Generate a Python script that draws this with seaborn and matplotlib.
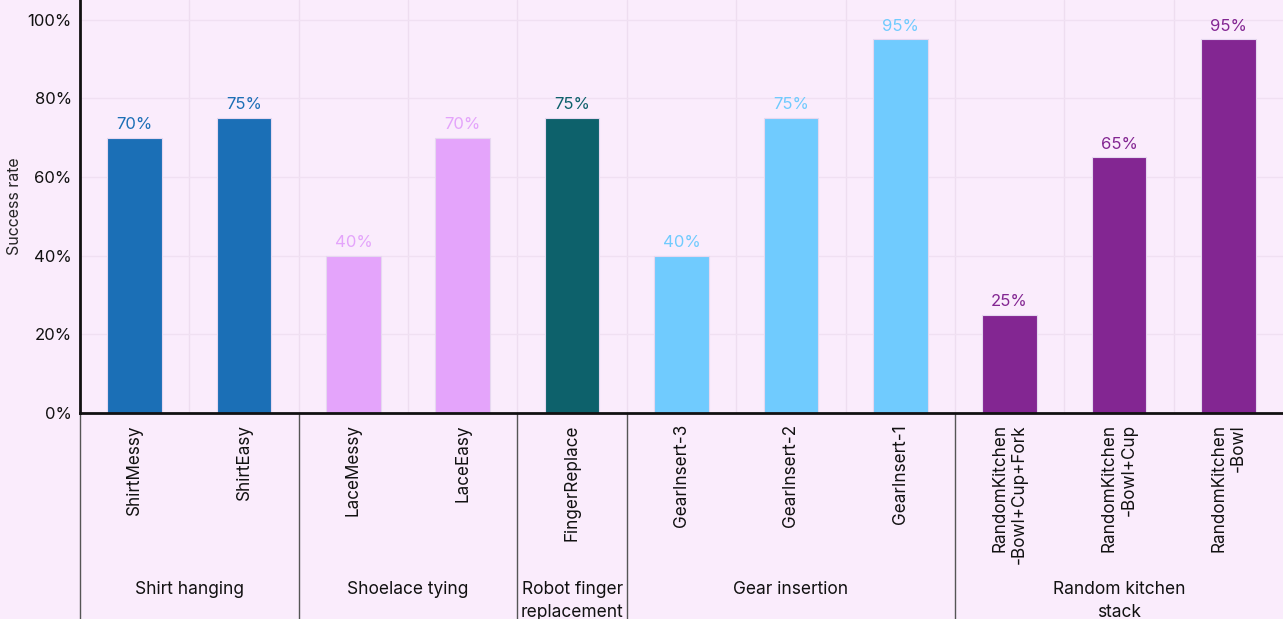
import numpy as np
import pandas as pd
import seaborn as sns
import matplotlib.pyplot as plt

# data
tasks = ['ShirtMessy', 'ShirtEasy', 'LaceMessy', 'LaceEasy', 'FingerReplace',
         'GearInsert-3', 'GearInsert-2', 'GearInsert-1',
         'RandomKitchen\n-Bowl+Cup+Fork', 'RandomKitchen\n-Bowl+Cup', 'RandomKitchen\n-Bowl']
groups = ['Shirt hanging', 'Shirt hanging', 'Shoelace tying', 'Shoelace tying',
          'Robot finger\nreplacement', 'Gear insertion', 'Gear insertion', 'Gear insertion',
          'Random kitchen\nstack', 'Random kitchen\nstack', 'Random kitchen\nstack']
success = [70, 75, 40, 70, 75, 40, 75, 95, 25, 65, 95]

group_colors = {'Shirt hanging': '#1B6FB6', 'Shoelace tying': '#E4A4FB',
                'Robot finger\nreplacement': '#0D616B', 'Gear insertion': '#70CBFE',
                'Random kitchen\nstack': '#832692'}

df = pd.DataFrame({'task': tasks, 'group': groups, 'success': success})

bg = '#FAECFC'
sns.set_theme(style='white')
plt.rcParams['font.family'] = ['Inter', 'DejaVu Sans']

fig = plt.figure(figsize=(12.83, 6.19), dpi=100, facecolor=bg)
ax = fig.add_axes([80 / 1283, 206 / 619, 1 - 80 / 1283, 413 / 619])
ax.set_facecolor(bg)

sns.barplot(data=df, x='task', y='success', hue='group', palette=group_colors,
            dodge=False, width=0.5, saturation=1, edgecolor='#E6D8F0', linewidth=0.8,
            legend=False, ax=ax)

ax.set_ylim(0, 105)
ax.set_xlim(-0.5, len(tasks) - 0.5)
ax.set_yticks(np.arange(0, 101, 20))
ax.set_yticklabels([f'{v}%' for v in range(0, 101, 20)], fontsize=12, color='#111111')
ax.set_xticks(range(len(tasks)))
ax.set_xticklabels(tasks, rotation=90, fontsize=12.3, va='top', ha='center',
                   multialignment='right', color='#111111')
ax.tick_params(axis='both', length=0)
ax.tick_params(axis='x', pad=8)
ax.tick_params(axis='y', pad=6)
ax.set_xlabel('')
ax.set_ylabel('Success rate', fontsize=11.5, labelpad=4)

# grid on slot boundaries and at 20% steps
for xb in np.arange(0.5, len(tasks) - 0.5, 1):
    ax.axvline(xb, color='#EEDDF0', lw=1, zorder=0)
for yv in range(20, 101, 20):
    ax.axhline(yv, color='#F0E0F2', lw=1, zorder=0)

for s in ['top', 'right']:
    ax.spines[s].set_visible(False)
ax.spines['left'].set_color('#111111')
ax.spines['left'].set_linewidth(2)
ax.spines['bottom'].set_color('#111111')
ax.spines['bottom'].set_linewidth(2)

# value labels
for i, (v, g) in enumerate(zip(success, groups)):
    ax.annotate(f'{v}%', (i, v), xytext=(0, 4), textcoords='offset points',
                ha='center', va='bottom', fontsize=12, color=group_colors[g])

# group separators and names below the axis
order = list(dict.fromkeys(groups))
start = 0
bounds = [-0.5]
for g in order:
    n = groups.count(g)
    mid = start + (n - 1) / 2
    ax.annotate(g, (mid, 0), xycoords=('data', 'axes fraction'),
                xytext=(0, -121), textcoords='offset points',
                ha='center', va='top', fontsize=12.5, color='#111111',
                linespacing=1.45, annotation_clip=False)
    start += n
    bounds.append(start - 0.5)
for b in bounds[:-1]:
    ax.plot([b, b], [0, -0.55], transform=ax.get_xaxis_transform(),
            color='#555555', lw=1, clip_on=False)

fig.savefig('out.png', dpi=100, facecolor=bg)
